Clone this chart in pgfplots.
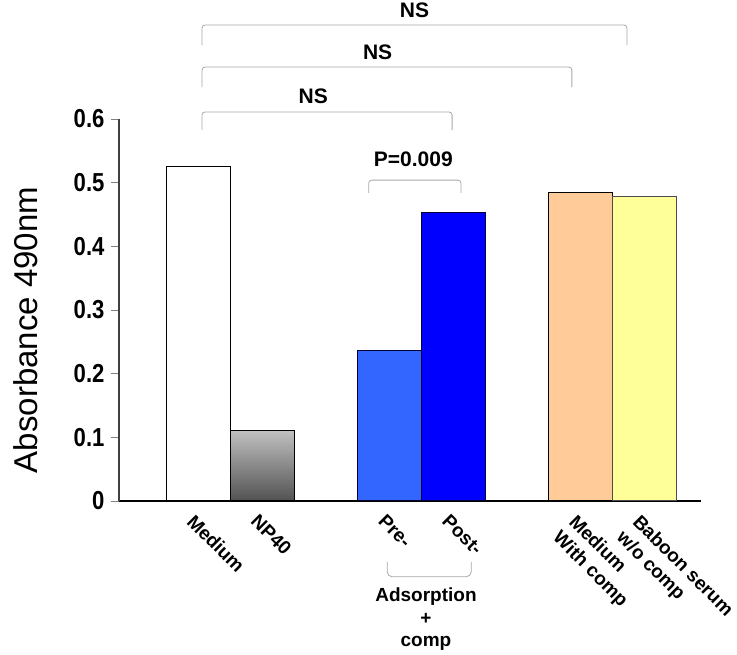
\documentclass[border=0pt]{standalone}
\usepackage{pgfplots}
\pgfplotsset{compat=1.18}
\usepackage{fontspec}
\setmainfont{Liberation Sans}
\usepackage{graphicx}

\definecolor{preblue}{HTML}{3366FF}
\definecolor{postblue}{HTML}{0000FF}
\definecolor{peach}{HTML}{FFCC99}
\definecolor{lyellow}{HTML}{FFFF99}
\definecolor{brk}{HTML}{A8A8A8}

\newcommand{\lbl}{\bfseries\fontsize{19}{22.5}\selectfont}

\begin{document}
\begin{tikzpicture}
\path[use as bounding box] (-119pt,-154pt) rectangle (618pt,501pt);
\begin{axis}[
  at={(0pt,0pt)}, anchor=south west,
  width=582pt, height=382pt, scale only axis,
  xmin=-0.25, xmax=8.887, ymin=0, ymax=0.6,
  axis x line*=bottom, axis y line*=left,
  x axis line style={black, line width=1.8pt, -},
  y axis line style={darkgray, line width=1.2pt, -},
  clip=false,
  xtick={1,2,4,5,7,8},
  xticklabels={Medium, NP40, Pre-, Post-, {Medium\\With comp}, {Baboon serum\\w/o comp}},
  xtick style={draw=none},
  xticklabel style={xshift=-3pt, yshift=-4pt, rotate=-45, anchor=north west, align=left, font=\lbl, inner sep=0pt},
  ytick={0,0.1,0.2,0.3,0.4,0.5,0.6},
  ytick style={draw=gray, line width=0.8pt},
  major tick length=8pt, tick align=outside,
  yticklabel style={/pgf/number format/fixed, /pgf/number format/precision=1, /pgf/number format/assume math mode=true, font=\bfseries\fontsize{26}{26}\selectfont, xshift=-3pt},
  yticklabel={\scalebox{0.85}[1]{\pgfmathprintnumber{\tick}}},
]
\addplot[ybar, bar width=1, bar shift=0pt, fill=white, draw=black, line width=1pt] coordinates {(1,0.525)};
\addplot[ybar, bar width=1, bar shift=0pt, top color=black!25, bottom color=black!68, draw=black, line width=1pt] coordinates {(2,0.110)};
\addplot[ybar, bar width=1, bar shift=0pt, fill=preblue, draw=black!80!blue, line width=1pt] coordinates {(4,0.236)};
\addplot[ybar, bar width=1, bar shift=0pt, fill=postblue, draw=black!80!blue, line width=1pt] coordinates {(5,0.4535)};
\addplot[ybar, bar width=1, bar shift=0pt, fill=peach, draw=black, line width=1pt] coordinates {(7,0.484)};
\addplot[ybar, bar width=1, bar shift=0pt, fill=lyellow, draw=black!70, line width=1pt] coordinates {(8,0.478)};

% significance brackets
\draw[brk, line width=0.8pt, rounded corners=3pt] (axis cs:1.053,0.716) -- (axis cs:1.053,0.7476) -- (axis cs:7.725,0.7476) -- (axis cs:7.725,0.716);
\node[font=\bfseries\fontsize{21}{21}\selectfont] at (axis cs:4.39,0.770) {NS};
\draw[brk, line width=0.8pt, rounded corners=3pt] (axis cs:1.053,0.650) -- (axis cs:1.053,0.6816) -- (axis cs:6.86,0.6816) -- (axis cs:6.86,0.650);
\node[font=\bfseries\fontsize{21}{21}\selectfont] at (axis cs:3.81,0.705) {NS};
\draw[brk, line width=0.8pt, rounded corners=3pt] (axis cs:1.053,0.583) -- (axis cs:1.053,0.611) -- (axis cs:4.98,0.611) -- (axis cs:4.98,0.583);
\node[font=\bfseries\fontsize{21}{21}\selectfont] at (axis cs:2.80,0.636) {NS};
\draw[brk, line width=0.8pt, rounded corners=3pt] (axis cs:3.67,0.484) -- (axis cs:3.67,0.504) -- (axis cs:5.12,0.504) -- (axis cs:5.12,0.484);
\node[font=\bfseries\fontsize{21}{21}\selectfont] at (axis cs:4.37,0.536) {P=0.009};
% adsorption bracket
\draw[brk, line width=0.8pt, rounded corners=5pt] (axis cs:3.96,-0.0958) -- (axis cs:3.96,-0.119) -- (axis cs:5.28,-0.119) -- (axis cs:5.28,-0.0958);
\node[font=\lbl, align=center, anchor=north] at (axis cs:4.57,-0.131) {Adsorption\\+\\comp};
\end{axis}
\node[rotate=90, anchor=base, font=\fontsize{33}{33}\selectfont] at (-81pt,171pt) {Absorbance 490nm};
\end{tikzpicture}
\end{document}
